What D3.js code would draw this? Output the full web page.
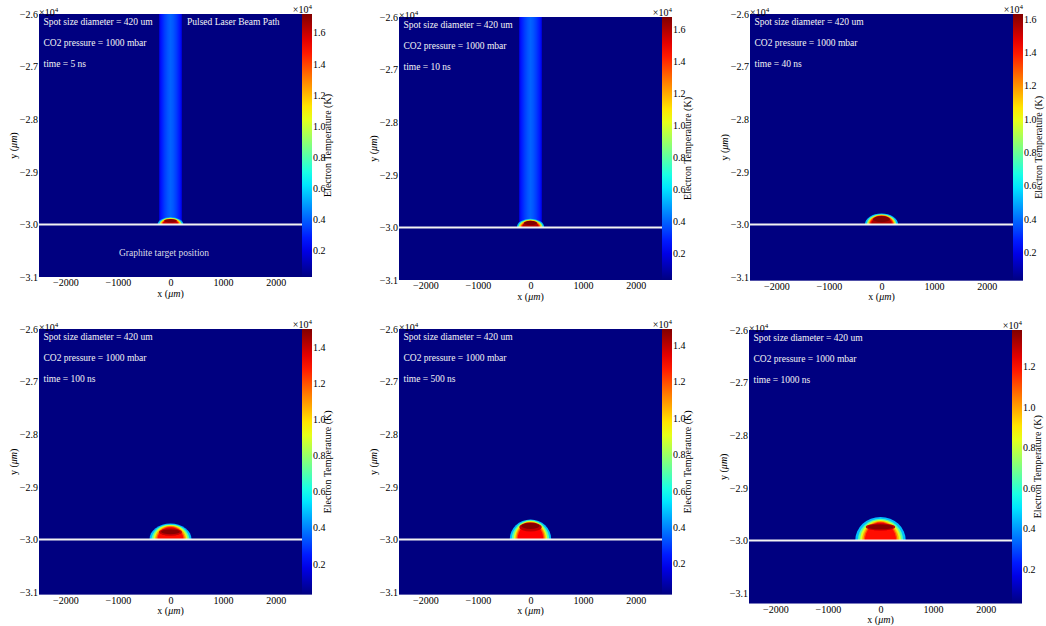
<!DOCTYPE html>
<html>
<head>
<meta charset="utf-8">
<script src="https://cdn.jsdelivr.net/npm/d3@7"></script>
<style>
  body { margin: 0; background: #fff; }
  svg text { font-family: "Liberation Serif", "DejaVu Serif", serif; }
</style>
</head>
<body>
<div id="chart"></div>
<script>
// snapshot times (ns) and run settings
const times = [5, 10, 40, 100, 500, 1000];
const spotSize = 420;
const pressure = 1000;

// colour range of each panel (K)
const tempMin = [300, 300, 300, 300, 300, 300];
const tempMax = [17200, 16750, 16300, 15000, 14900, 13800];
const backgroundTemp = 300;

// laser beam column: cross profile (um) and temperature (K), only while the pulse is on
const beamX = [-215, -170, -110, -50, 0, 50, 110, 170, 215];
const beamTemp = [
  [2100, 2800, 3400, 3850, 4050, 3850, 3400, 2800, 2100],
  [2100, 2750, 3300, 3750, 3950, 3750, 3300, 2750, 2100],
  null, null, null, null
];

// plume iso-layers: [half width um, height um, centre above target um, T K]
const plumes = [
  [[245, 135, 0, 5500], [215, 125, 0, 9000], [195, 115, 0, 11500], [175, 105, 0, 13500], [155, 95, 0, 15000], [140, 80, 10, 16000], [120, 35, 70, 17000]],
  [[260, 165, 0, 5500], [230, 152, 0, 9000], [208, 140, 0, 11500], [188, 128, 0, 13500], [168, 115, 0, 15000], [150, 95, 15, 16000], [125, 40, 85, 16700]],
  [[315, 205, 0, 5300], [280, 192, 0, 8500], [255, 182, 0, 11000], [235, 172, 0, 13000], [215, 160, 0, 14500], [195, 140, 10, 15600], [160, 60, 100, 16250]],
  [[400, 300, 0, 4800], [360, 285, 0, 7000], [325, 272, 0, 9000], [295, 260, 0, 10600], [270, 248, 0, 11900], [245, 235, 0, 13000], [220, 70, 140, 14000], [180, 45, 145, 14900]],
  [[395, 380, 0, 4800], [355, 362, 0, 7000], [320, 348, 0, 9000], [292, 335, 0, 10600], [268, 322, 0, 11900], [245, 308, 0, 13000], [215, 85, 235, 14000], [175, 55, 255, 14800]],
  [[480, 445, 0, 4500], [430, 410, 0, 6500], [390, 390, 0, 8300], [350, 370, 0, 9800], [320, 355, 0, 11000], [295, 340, 0, 12000], [280, 65, 255, 13000], [240, 45, 255, 13700]]
];

const targetY = -30000;
const xTicks = [-2000, -1000, 0, 1000, 2000];
const yTicks = [-26000, -27000, -28000, -29000, -30000, -31000];
const cbarTicks = [2000, 4000, 6000, 8000, 10000, 12000, 14000, 16000];

// page layout
const W = 1046, H = 626;
const plotW = 263, pxPerUm = plotW / 5000, cbarW = 10;
const layout = [
  { left: 39, top: 14 }, { left: 399, top: 17 }, { left: 750, top: 14 },
  { left: 39, top: 329 }, { left: 399, top: 329 }, { left: 749, top: 330 }
];
const yBottom = [-31000, -31000, -31070, -31050, -31050, -31200];

function jet(t) {
  t = Math.max(0, Math.min(1, t));
  const f = v => Math.round(255 * Math.max(0, Math.min(1, v)));
  return `rgb(${f(1.5 - Math.abs(4 * t - 3))},${f(1.5 - Math.abs(4 * t - 2))},${f(1.5 - Math.abs(4 * t - 1))})`;
}
const minus = s => s.replace("-", "\u2212");

const svg = d3.select("#chart").append("svg")
  .attr("width", W).attr("height", H);
const defs = svg.append("defs");
defs.append("filter").attr("id", "soft")
  .attr("x", "-20%").attr("y", "-20%").attr("width", "140%").attr("height", "140%")
  .append("feGaussianBlur").attr("stdDeviation", 0.55);

function offsetLabel(sel, x, y, anchor) {
  const t = sel.append("text").attr("x", x).attr("y", y)
    .attr("text-anchor", anchor).attr("font-size", 10).attr("fill", "#000");
  t.append("tspan").text("\u00d710");
  t.append("tspan").attr("font-size", 7).attr("dy", -4).text("4");
}

times.forEach((time, i) => {
  const L = layout[i];
  const h = (-26000 - yBottom[i]) * pxPerUm;
  const x = d3.scaleLinear().domain([-2500, 2500]).range([0, plotW]);
  const y = d3.scaleLinear().domain([yBottom[i], -26000]).range([h, 0]);
  const color = d3.scaleSequential(jet).domain([tempMin[i], tempMax[i]]);

  const g = svg.append("g").attr("transform", `translate(${L.left},${L.top})`);

  g.append("rect").attr("width", plotW).attr("height", h)
    .attr("fill", color(backgroundTemp));

  // beam column
  if (beamTemp[i]) {
    const grad = defs.append("linearGradient").attr("id", "beam" + i)
      .attr("gradientUnits", "userSpaceOnUse")
      .attr("x1", x(beamX[0])).attr("x2", x(beamX[beamX.length - 1]))
      .attr("y1", 0).attr("y2", 0);
    const span = beamX[beamX.length - 1] - beamX[0];
    grad.selectAll("stop").data(beamX).enter().append("stop")
      .attr("offset", d => (d - beamX[0]) / span)
      .attr("stop-color", (d, k) => color(beamTemp[i][k]));
    g.append("rect")
      .attr("x", x(beamX[0])).attr("width", x(beamX[beamX.length - 1]) - x(beamX[0]))
      .attr("y", y(-26000)).attr("height", y(targetY) - y(-26000))
      .attr("fill", `url(#beam${i})`);
  }

  // plume above the target
  defs.append("clipPath").attr("id", "clip" + i)
    .append("rect").attr("x", 0).attr("y", 0)
    .attr("width", plotW).attr("height", y(targetY));
  const plumeG = g.append("g").attr("clip-path", `url(#clip${i})`)
    .append("g").attr("filter", "url(#soft)");
  plumeG.selectAll("ellipse").data(plumes[i]).enter().append("ellipse")
    .attr("cx", x(0))
    .attr("cy", d => y(targetY + d[2]))
    .attr("rx", d => x(d[0]) - x(0))
    .attr("ry", d => y(targetY) - y(targetY + d[1]))
    .attr("fill", d => color(d[3]));

  // target surface
  g.append("line")
    .attr("x1", 0).attr("x2", plotW)
    .attr("y1", y(targetY)).attr("y2", y(targetY))
    .attr("stroke", "#f2f2f2").attr("stroke-width", 2);

  // annotations
  const notes = [`Spot size diameter = ${spotSize} um`, `CO2 pressure = ${pressure} mbar`, `time = ${time} ns`];
  g.selectAll("text.note").data(notes).enter().append("text")
    .attr("class", "note")
    .attr("x", 4.5).attr("y", (d, k) => 11 + k * 21)
    .attr("font-size", 9.5).attr("fill", "#f4f4f4")
    .text(d => d);
  if (i === 0) {
    g.append("text").attr("x", 148).attr("y", 11)
      .attr("font-size", 9.5).attr("fill", "#f4f4f4")
      .text("Pulsed Laser Beam Path");
    g.append("text").attr("x", 125).attr("y", 242)
      .attr("text-anchor", "middle")
      .attr("font-size", 9.5).attr("fill", "#dcdce6")
      .text("Graphite target position");
  }

  // axes
  const xAxis = g.append("g").attr("transform", `translate(0,${h})`)
    .call(d3.axisBottom(x).tickValues(xTicks).tickSize(0).tickPadding(2)
      .tickFormat(d => minus(String(d))));
  const yAxis = g.append("g")
    .call(d3.axisLeft(y).tickValues(yTicks).tickSize(0).tickPadding(1)
      .tickFormat(d => minus((d / 1e4).toFixed(1))));
  [xAxis, yAxis].forEach(a => {
    a.select(".domain").remove();
    a.attr("font-family", null).attr("font-size", 10);
    a.selectAll("text").attr("fill", "#000");
  });
  offsetLabel(g, 0, 2, "start");

  const xl = g.append("text").attr("x", plotW / 2).attr("y", h + 19.5)
    .attr("text-anchor", "middle").attr("font-size", 10);
  xl.append("tspan").text("x  (");
  xl.append("tspan").attr("font-style", "italic").text("\u03bcm");
  xl.append("tspan").text(")");

  const yl = g.append("text")
    .attr("transform", `translate(-22,${h / 2}) rotate(-90)`)
    .attr("text-anchor", "middle").attr("font-size", 10);
  yl.append("tspan").text("y  (");
  yl.append("tspan").attr("font-style", "italic").text("\u03bcm");
  yl.append("tspan").text(")");

  // colour bar
  const cb = d3.scaleLinear().domain([tempMin[i], tempMax[i]]).range([h, 0]);
  const cgrad = defs.append("linearGradient").attr("id", "cbar" + i)
    .attr("x1", 0).attr("x2", 0).attr("y1", 1).attr("y2", 0);
  cgrad.selectAll("stop").data(d3.range(0, 1.0001, 0.05)).enter().append("stop")
    .attr("offset", d => d)
    .attr("stop-color", d => jet(d));
  const cg = g.append("g").attr("transform", `translate(${plotW},0)`);
  cg.append("rect").attr("width", cbarW).attr("height", h)
    .attr("fill", `url(#cbar${i})`);
  const cAxis = cg.append("g").attr("transform", `translate(${cbarW},0)`)
    .call(d3.axisRight(cb)
      .tickValues(cbarTicks.filter(v => v >= tempMin[i] && v <= tempMax[i]))
      .tickSize(0).tickPadding(1)
      .tickFormat(d => (d / 1e4).toFixed(1)));
  cAxis.select(".domain").remove();
  cAxis.attr("font-family", null).attr("font-size", 10);
  cAxis.selectAll("text").attr("fill", "#000");
  offsetLabel(cg, cbarW, -1, "end");
  cg.append("text")
    .attr("transform", `translate(${cbarW + 19},${h / 2}) rotate(-90)`)
    .attr("text-anchor", "middle").attr("font-size", 10)
    .text("Electron Temperature (K)");
});
</script>
</body>
</html>
